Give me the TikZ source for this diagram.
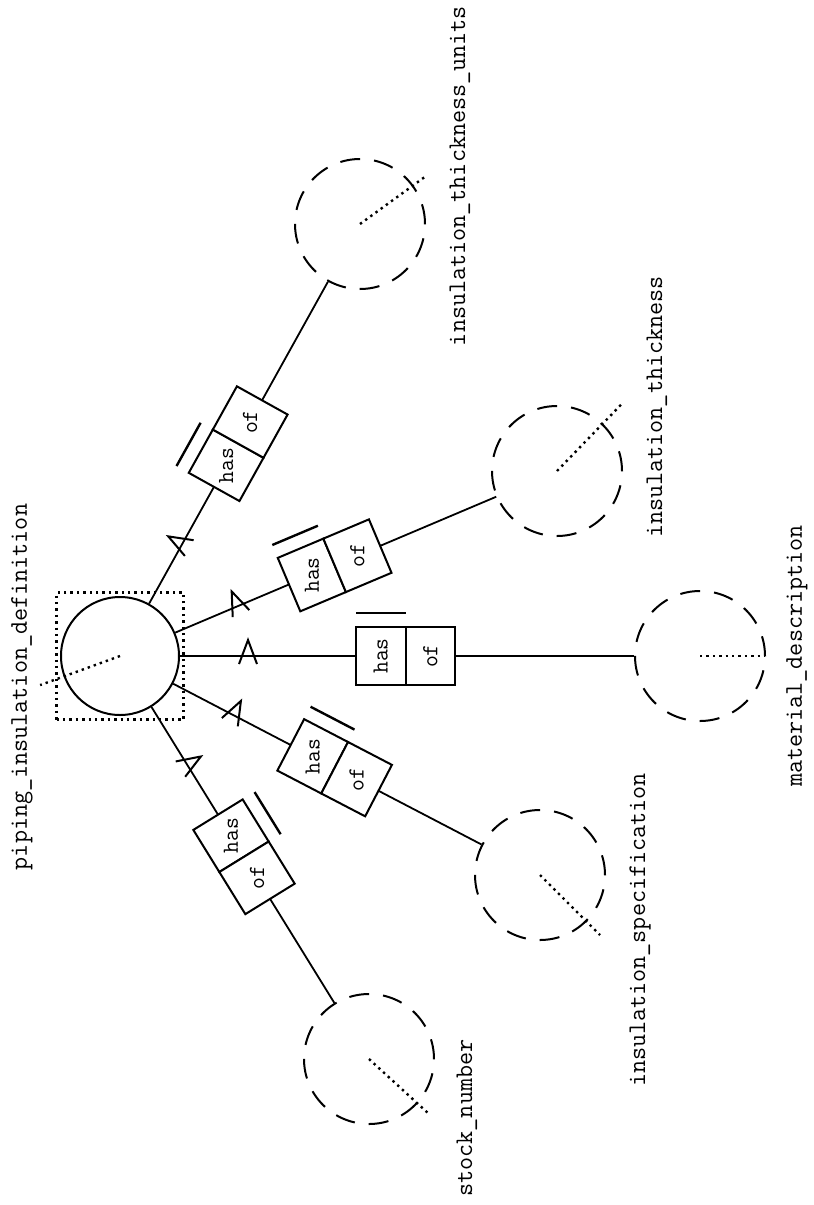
\documentclass[tikz,border=0pt]{standalone}
\usepackage{tikz}
\usetikzlibrary{
  arrows,
  positioning,
  calc
}

% role pair: #1 name, #2 angle of the link, #3 distance of the box centre
\newcommand{\hasof}[3]{
    \node[role, rotate=#2, anchor=east] (#1has) at ([shift={(#2:#3)}]pid.center) {};
    \node[role, rotate=#2, anchor=west] (#1of) at ([shift={(#2:#3)}]pid.center) {};
    \node[roletext] at (#1has.center) {has};
    \node[roletext] at (#1of.center) {of};
    \draw[uniq] ([shift={(#2+90:14)}]#1has.north west) -- ([shift={(#2+90:14)}]#1has.north east);
}
% mark on the link: #1 angle, #2 distance
\newcommand{\linkmark}[2]{
    \begin{scope}[shift={(pid.center)}, rotate=#1]
        \draw[chev] (#2-9,-8) -- (#2,16) -- (#2+9,-8);
    \end{scope}
}

\begin{document}
\begin{tikzpicture}[x=0.5pt,y=0.5pt,
    ent/.style={draw, circle, line width=1pt, minimum size=59pt, inner sep=0pt},
    val/.style={draw, circle, dash pattern=on 10pt off 7pt, line width=1pt, minimum size=65pt, inner sep=0pt},
    ref/.style={dotted, line width=1.2pt},
    link/.style={line width=0.9pt},
    role/.style={draw, fill=white, line width=1pt, minimum width=24.75pt, minimum height=29pt, inner sep=0pt, outer sep=0pt},
    roletext/.style={rotate=90, font=\ttfamily\fontsize{11.5}{13}\selectfont},
    lbl/.style={rotate=90, font=\ttfamily\fontsize{12.7}{14}\selectfont},
    uniq/.style={line width=1.2pt},
    chev/.style={line width=1pt}]
    \useasboundingbox (0,0) rectangle (814,-1205);

    % entity and values
    \node[ent] (pid) at (120,-656) {};
    \node[draw, dotted, line width=1.2pt, minimum size=63.5pt, inner sep=0pt] (pidbox) at (pid) {};
    \node[val] (units) at (360,-224) {};
    \node[val] (thick) at (557,-471) {};
    \node[val] (matd) at (700,-656) {};
    \node[val] (spec) at (540,-875) {};
    \node[val] (stock) at (369,-1059) {};

    % reference lines
    \draw[ref] (pid.center) -- ++(200:85);
    \draw[ref] (units.center) -- ++(36:83);
    \draw[ref] (thick.center) -- ++(46:95);
    \draw[ref] (matd.center) -- ++(0:65);
    \draw[ref] (spec.center) -- ++(-45:85);
    \draw[ref] (stock.center) -- ++(-42.5:83);

    % links
    \draw[link] (pid) -- (units);
    \draw[link] (pid) -- (thick);
    \draw[link] (pid) -- (matd);
    \draw[link] (pid) -- (spec);
    \draw[link] (pid) -- (stock);

    \linkmark{60.9}{128}
    \linkmark{22.9}{128}
    \linkmark{0}{128}
    \linkmark{-27.5}{128}
    \linkmark{-58.3}{128}

    \hasof{units}{60.9}{243}
    \hasof{thick}{22.9}{233}
    \hasof{matd}{0}{285.5}
    \hasof{spec}{-27.5}{242}
    \hasof{stock}{-58.3}{236}

    % labels
    \node[lbl] (pidlbl) at (22,-687) {piping\_insulation\_definition};
    \node[lbl] (unitslbl) at (460,-176) {insulation\_thickness\_units};
    \node[lbl] (thicklbl) at (657,-407) {insulation\_thickness};
    \node[lbl] (matdlbl) at (797,-656) {material\_description};
    \node[lbl] (speclbl) at (640,-930) {insulation\_specification};
    \node[lbl] (stocklbl) at (467,-1118) {stock\_number};
\end{tikzpicture}
\end{document}
